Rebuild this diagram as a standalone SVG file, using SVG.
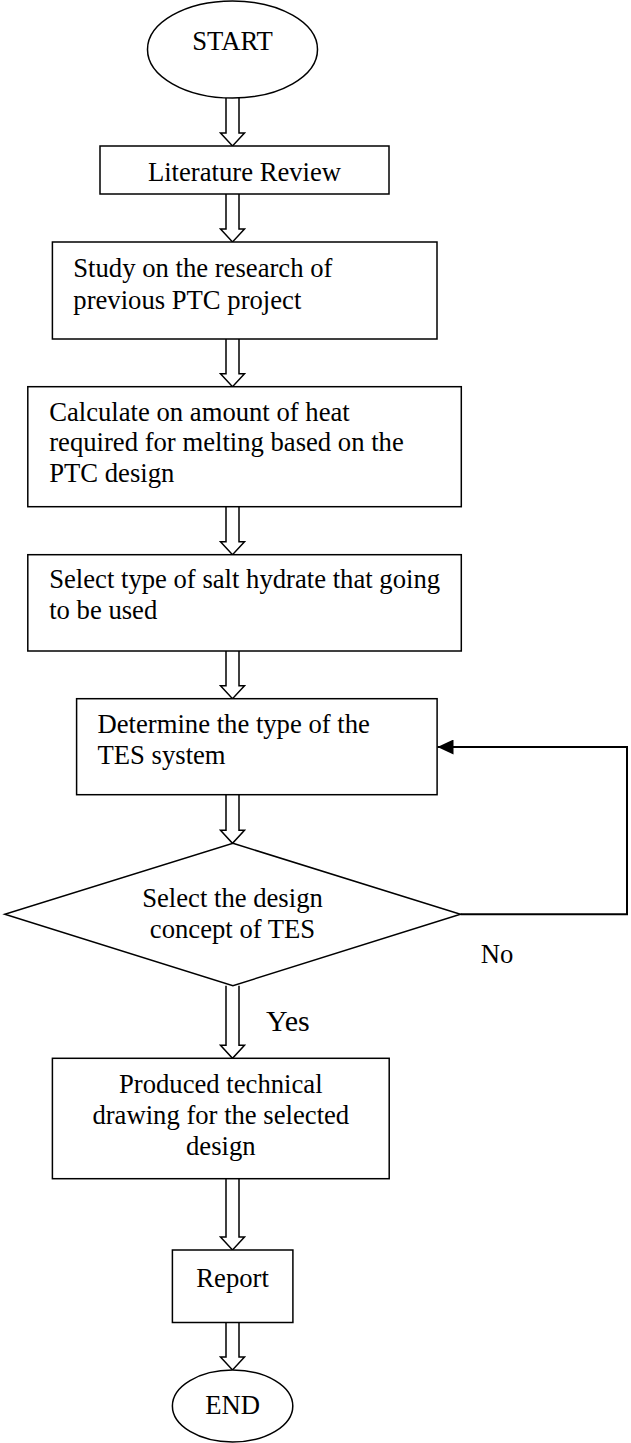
<svg xmlns="http://www.w3.org/2000/svg" width="631" height="1443" viewBox="0 0 631 1443">
<style>
.shape{fill:#fff;stroke:#000;stroke-width:1.5}
.arr{fill:#fff;stroke:#000;stroke-width:1.5;stroke-linejoin:miter}
.t{font-family:"Liberation Serif","Times New Roman",serif;font-size:26.67px;fill:#000}
.c{text-anchor:middle}
.fb{fill:none;stroke:#000;stroke-width:2}
</style>
<defs>
<marker id="ah" markerWidth="16" markerHeight="15" refX="16" refY="7.5" orient="auto" markerUnits="userSpaceOnUse">
<path d="M0,0 L16,7.5 L0,15 Z" fill="#000"/>
</marker>
</defs>
<rect width="631" height="1443" fill="#fff"/>
<g id="connectors">
<path class="arr" d="M226,98 V133 H220.5 L232.5,146 L244.5,133 H239 V98"/>
<path class="arr" d="M226,194 V229 H220.5 L232.5,242 L244.5,229 H239 V194"/>
<path class="arr" d="M226,339 V373.7 H220.5 L232.5,386.7 L244.5,373.7 H239 V339"/>
<path class="arr" d="M226,506.7 V541.7 H220.5 L232.5,554.7 L244.5,541.7 H239 V506.7"/>
<path class="arr" d="M226,651 V685.7 H220.5 L232.5,698.7 L244.5,685.7 H239 V651"/>
<path class="arr" d="M226,794.7 V830.3 H220.5 L232.5,843.3 L244.5,830.3 H239 V794.7"/>
<path class="arr" d="M226,985.7 V1045.3 H220.5 L232.5,1058.3 L244.5,1045.3 H239 V985.7"/>
<path class="arr" d="M226,1178.7 V1237 H220.5 L232.5,1250 L244.5,1237 H239 V1178.7"/>
<path class="arr" d="M226,1322.5 V1357 H220.5 L232.5,1370 L244.5,1357 H239 V1322.5"/>
<polyline class="fb" points="460.5,914.3 627,914.3 627,747 437.5,747" marker-end="url(#ah)"/>
<text class="t" x="480.7" y="962.7">No</text>
<text class="t" x="266" y="1030.7" style="font-size:30px">Yes</text>
</g>
<g id="start">
<ellipse class="shape" cx="232.5" cy="49.5" rx="85" ry="48.5"/>
<text class="t c" x="232.5" y="49.5">START</text>
</g>
<g id="literature">
<rect class="shape" x="100" y="146" width="289" height="48"/>
<text class="t c" x="244.5" y="181">Literature Review</text>
</g>
<g id="study">
<rect class="shape" x="52.4" y="242" width="384.6" height="97"/>
<text class="t" x="73.3" y="276.7">Study on the research of</text>
<text class="t" x="73.3" y="309">previous PTC project</text>
</g>
<g id="calculate">
<rect class="shape" x="27.8" y="386.7" width="433.5" height="120"/>
<text class="t" x="49.2" y="420.7">Calculate on amount of heat</text>
<text class="t" x="49.2" y="451.3">required for melting based on the</text>
<text class="t" x="49.2" y="482.3">PTC design</text>
</g>
<g id="select">
<rect class="shape" x="27.8" y="554.7" width="433.5" height="96.3"/>
<text class="t" x="49.2" y="588.3">Select type of salt hydrate that going</text>
<text class="t" x="49.2" y="619.3">to be used</text>
</g>
<g id="determine">
<rect class="shape" x="76.6" y="698.7" width="360.5" height="96"/>
<text class="t" x="97.5" y="732.7">Determine the type of the</text>
<text class="t" x="97.5" y="764">TES system</text>
</g>
<g id="decision">
<polygon class="shape" points="232.9,843.3 460.5,914.3 232.9,985.7 4.8,914.3"/>
<text class="t c" x="232.5" y="906.7">Select the design</text>
<text class="t c" x="232.5" y="938.3">concept of TES</text>
</g>
<g id="produced">
<rect class="shape" x="52.4" y="1058.3" width="336.8" height="120.4"/>
<text class="t c" x="220.8" y="1093.3">Produced technical</text>
<text class="t c" x="220.8" y="1124">drawing for the selected</text>
<text class="t c" x="220.8" y="1155">design</text>
</g>
<g id="report">
<rect class="shape" x="172.4" y="1250" width="120.5" height="72.5"/>
<text class="t c" x="232.6" y="1287.3">Report</text>
</g>
<g id="end">
<ellipse class="shape" cx="232.6" cy="1406" rx="60.2" ry="36"/>
<text class="t c" x="232.6" y="1414.3">END</text>
</g>
</svg>
